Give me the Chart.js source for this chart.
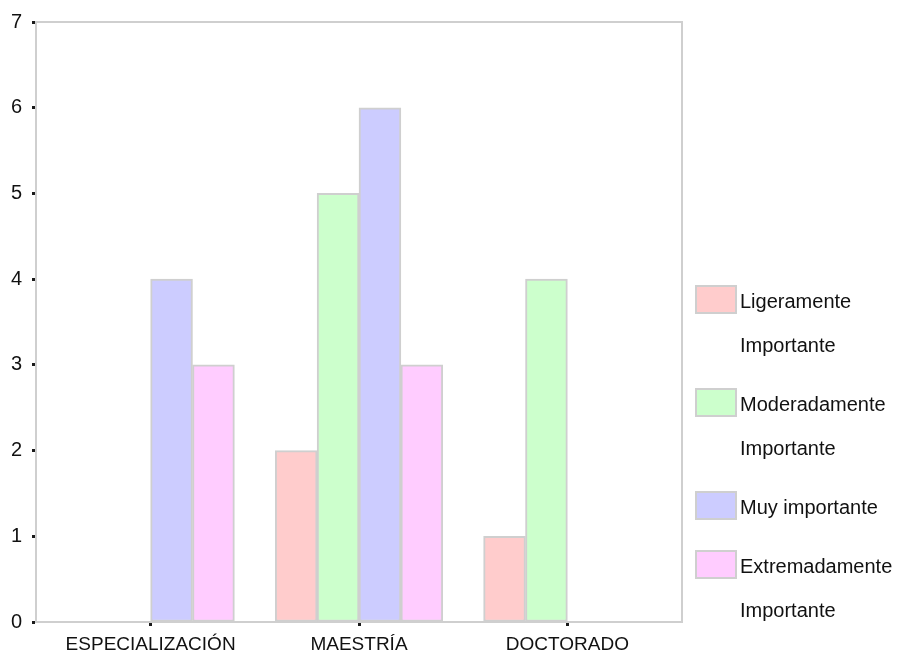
<!DOCTYPE html>
<html>
<head>
<meta charset="utf-8">
<script src="https://cdn.jsdelivr.net/npm/chart.js@4.4.1/dist/chart.umd.min.js"></script>
<style>
  html, body { margin: 0; padding: 0; background: #fff; }
  #wrap { width: 902px; height: 656px; position: relative; }
</style>
</head>
<body>
<div id="wrap"><canvas id="grafica"></canvas></div>
<script>
const categorias = ['ESPECIALIZACIÓN', 'MAESTRÍA', 'DOCTORADO'];
const ligeramente = [0, 2, 1];
const moderadamente = [0, 5, 4];
const muyImportante = [4, 6, 0];
const extremadamente = [3, 3, 0];
const ticksY = [0, 1, 2, 3, 4, 5, 6, 7];

const etiquetas = ['Ligeramente Importante', 'Moderadamente Importante', 'Muy importante', 'Extremadamente Importante'];
const colores = ['#ffcccc', '#ccffcc', '#ccccff', '#ffccff'];
const series = [ligeramente, moderadamente, muyImportante, extremadamente];

const fuente = "'Liberation Sans', Arial, sans-serif";

function puntos(valores) {
    return valores.map((v, i) => ({ x: i, y: v }));
}

// borde gris alrededor del area de trazado
const bordePlugin = {
    id: 'borde',
    beforeDatasetsDraw(chart) {
        const a = chart.chartArea;
        const ctx = chart.ctx;
        ctx.save();
        ctx.strokeStyle = '#cfcfcf';
        ctx.lineWidth = 2;
        ctx.strokeRect(a.left, a.top, a.right - a.left, a.bottom - a.top);
        ctx.restore();
    }
};

// leyenda a la derecha con etiquetas en varias lineas
const leyendaPlugin = {
    id: 'leyendaDerecha',
    afterDraw(chart) {
        const ctx = chart.ctx;
        const x = 696, anchoCaja = 40, altoCaja = 27, xTexto = 740;
        const alto = 44, espacio = 15, maxAncho = 160;
        let y = 286;
        ctx.save();
        ctx.font = '20px ' + fuente;
        ctx.textBaseline = 'middle';
        ctx.fillStyle = '#111';
        chart.data.datasets.forEach(ds => {
            // partir etiqueta en lineas
            const palabras = ds.label.split(' ');
            const lineas = [];
            let actual = '';
            palabras.forEach(p => {
                const prueba = actual ? actual + ' ' + p : p;
                if (ctx.measureText(prueba).width > maxAncho && actual) {
                    lineas.push(actual);
                    actual = p;
                } else {
                    actual = prueba;
                }
            });
            lineas.push(actual);

            ctx.fillStyle = ds.backgroundColor;
            ctx.fillRect(x, y, anchoCaja, altoCaja);
            ctx.strokeStyle = '#cfcfcf';
            ctx.lineWidth = 2;
            ctx.strokeRect(x, y, anchoCaja, altoCaja);

            ctx.fillStyle = '#111';
            lineas.forEach((l, k) => {
                ctx.fillText(l, xTexto, y + altoCaja / 2 + 3 + k * alto);
            });
            y += lineas.length * alto + espacio;
        });
        ctx.restore();
    }
};

const ctx = document.getElementById('grafica').getContext('2d');
new Chart(ctx, {
    type: 'bar',
    data: {
        datasets: series.map((s, i) => ({
            label: etiquetas[i],
            data: puntos(s),
            backgroundColor: colores[i],
            borderColor: '#cfcfcf',
            borderWidth: 2,
            borderSkipped: false,
            barThickness: 41.9
        }))
    },
    options: {
        responsive: true,
        maintainAspectRatio: false,
        animation: false,
        layout: { padding: { top: 21, right: 220, bottom: 0, left: 0 } },
        plugins: {
            legend: { display: false },
            tooltip: { enabled: false }
        },
        scales: {
            x: {
                type: 'linear',
                min: -0.55,
                max: 2.55,
                offset: false,
                grid: { offset: false, drawOnChartArea: false, tickLength: 4, tickWidth: 3, color: '#1a1a1a' },
                border: { color: '#cfcfcf', width: 2 },
                ticks: {
                    stepSize: 1,
                    includeBounds: false,
                    autoSkip: false,
                    maxRotation: 0,
                    padding: 7,
                    color: '#111',
                    font: { family: fuente, size: 19 },
                    callback: v => Number.isInteger(v) ? categorias[v] : ''
                },
                afterFit(scale) { scale.height = 34; }
            },
            y: {
                min: ticksY[0],
                max: ticksY[ticksY.length - 1],
                grid: { drawOnChartArea: false, tickLength: 4, tickWidth: 3, color: '#1a1a1a' },
                border: { color: '#cfcfcf', width: 2 },
                ticks: {
                    stepSize: 1,
                    padding: 10,
                    color: '#111',
                    font: { family: fuente, size: 20 }
                },
                afterFit(scale) { scale.width = 36; }
            }
        }
    },
    plugins: [bordePlugin, leyendaPlugin]
});
</script>
</body>
</html>
